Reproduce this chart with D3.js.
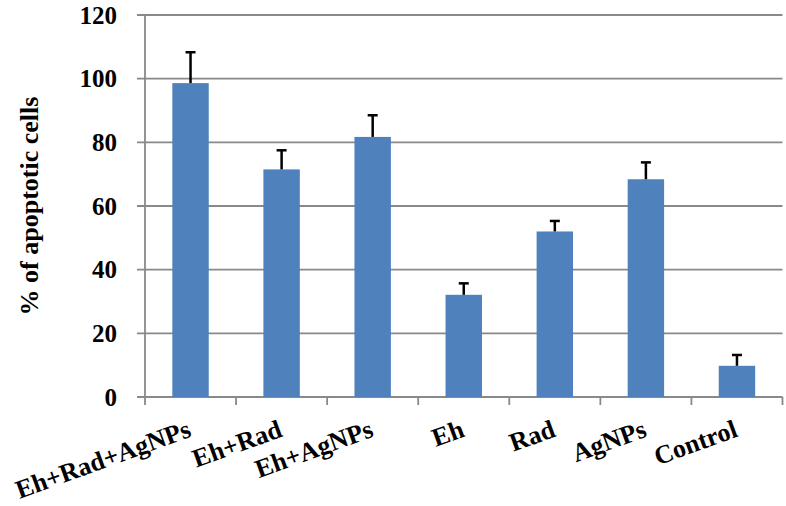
<!DOCTYPE html>
<html>
<head>
<meta charset="utf-8">
<script src="https://cdn.jsdelivr.net/npm/d3@7"></script>
<style>
  body { margin: 0; background: #fff; }
</style>
</head>
<body>
<div id="chart"></div>
<script>
// data
var categories = ["Eh+Rad+AgNPs", "Eh+Rad", "Eh+AgNPs", "Eh", "Rad", "AgNPs", "Control"];
var values = [98.6, 71.5, 81.7, 32.1, 52.0, 68.4, 9.8];
var errors = [9.7, 6.0, 6.8, 3.6, 3.3, 5.3, 3.4];
var yTicks = [0, 20, 40, 60, 80, 100, 120];

var drawChart = function(){

    // sizes
    const width = 786;
    const height = 506;
    const margin = {left: 145, right: 3.5, top: 15, bottom: 109};
    const innerWidth = width - margin.left - margin.right;
    const innerHeight = height - margin.top - margin.bottom;

    var fontFamily = '"Liberation Serif", "Times New Roman", serif';
    var barColor = "#4f81bd";
    var gridColor = "#898989";

    var svg = d3.select("#chart")
        .append("svg")
        .attr("width", width)
        .attr("height", height);

    var g = svg.append("g")
        .attr("transform", "translate(" + margin.left + "," + margin.top + ")");

    var x = d3.scaleBand()
        .domain(categories)
        .range([0, innerWidth]);

    var y = d3.scaleLinear()
        .domain([0, 120])
        .range([innerHeight, 0]);

    var barWidth = x.bandwidth() * 0.4;

    // gridlines + y ticks
    g.append("g").selectAll("line")
        .data(yTicks)
        .join("line")
        .attr("x1", -8)
        .attr("x2", innerWidth)
        .attr("y1", d => y(d))
        .attr("y2", d => y(d))
        .attr("stroke", gridColor)
        .attr("stroke-width", 1.8);

    g.append("g").selectAll("text")
        .data(yTicks)
        .join("text")
        .attr("x", -28)
        .attr("y", d => y(d))
        .attr("dy", "0.35em")
        .attr("text-anchor", "end")
        .attr("font-family", fontFamily)
        .attr("font-weight", "bold")
        .attr("font-size", 25)
        .text(d => d);

    // y axis line
    g.append("line")
        .attr("x1", 0).attr("x2", 0)
        .attr("y1", 0).attr("y2", innerHeight)
        .attr("stroke", gridColor)
        .attr("stroke-width", 1.8);

    // x ticks at band edges
    var edges = categories.map(c => x(c)).concat([innerWidth]);
    g.append("g").selectAll("line")
        .data(edges)
        .join("line")
        .attr("x1", d => d).attr("x2", d => d)
        .attr("y1", innerHeight).attr("y2", innerHeight + 8)
        .attr("stroke", gridColor)
        .attr("stroke-width", 1.8);

    // bars
    g.append("g").selectAll("rect")
        .data(values)
        .join("rect")
        .attr("x", (d, i) => x(categories[i]) + x.bandwidth() / 2 - barWidth / 2)
        .attr("y", d => y(d))
        .attr("width", barWidth)
        .attr("height", d => innerHeight - y(d))
        .attr("fill", barColor);

    // error bars (upper only)
    var err = g.append("g")
        .attr("stroke", "#000")
        .attr("stroke-width", 2.5);
    values.forEach(function(v, i){
        var cx = x(categories[i]) + x.bandwidth() / 2;
        err.append("line")
            .attr("x1", cx).attr("x2", cx)
            .attr("y1", y(v)).attr("y2", y(v + errors[i]));
        err.append("line")
            .attr("x1", cx - 5).attr("x2", cx + 5)
            .attr("y1", y(v + errors[i])).attr("y2", y(v + errors[i]));
    });

    // x labels, rotated
    g.append("g").selectAll("text")
        .data(categories)
        .join("text")
        .attr("transform", d => "translate(" + (x(d) + x.bandwidth() / 2 + 2) + "," + (innerHeight + 39) + ") rotate(-20)")
        .attr("text-anchor", "end")
        .attr("font-family", fontFamily)
        .attr("font-weight", "bold")
        .attr("font-size", 26)
        .text(d => d);

    // y title
    svg.append("text")
        .attr("transform", "translate(38," + (margin.top + innerHeight / 2) + ") rotate(-90)")
        .attr("text-anchor", "middle")
        .attr("font-family", fontFamily)
        .attr("font-weight", "bold")
        .attr("font-size", 26)
        .text("% of apoptotic cells");
}

window.addEventListener("load", drawChart)
</script>
</body>
</html>
